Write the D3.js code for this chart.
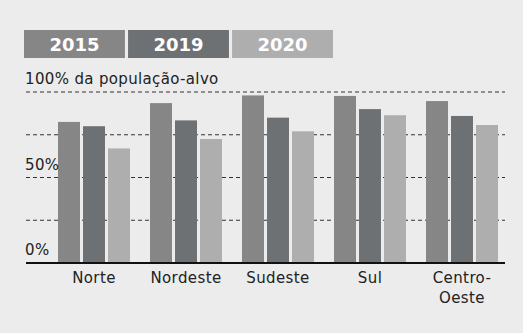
<!DOCTYPE html>
<html>
<head>
<meta charset="utf-8">
<script src="https://cdn.jsdelivr.net/npm/d3@7"></script>
<style>
html,body{margin:0;padding:0;background:#ececec;}
svg{display:block;}
text{font-family:"DejaVu Sans",sans-serif;}
</style>
</head>
<body>
<svg id="chart" width="523" height="333"></svg>
<script>
const regions = ["Norte", "Nordeste", "Sudeste", "Sul", "Centro-Oeste"];
const regionLines = [["Norte"], ["Nordeste"], ["Sudeste"], ["Sul"], ["Centro-", "Oeste"]];
const series = ["2015", "2019", "2020"];
const values2015 = [82.5, 93.5, 98, 97.7, 94.7];
const values2019 = [80, 83.4, 85, 90, 86];
const values2020 = [67, 72.5, 77, 86.4, 80.7];
const yTicks = [0, 25, 50, 75, 100];
const yLabels = {0: "0%", 50: "50%", 100: "100% da população-alvo"};
const colors = ["#868686", "#6e7174", "#aeaeae"];

const allValues = [values2015, values2019, values2020];
const svg = d3.select("#chart");

const x0 = d3.scaleBand().domain(regions).range([48, 508]).paddingInner(20/92).paddingOuter(10/92);
const x1 = d3.scaleBand().domain(series).range([0, x0.bandwidth()]).paddingInner(0.12).paddingOuter(0);
const y = d3.scaleLinear().domain([0, 100]).range([263, 92]);

// Legend
const legend = d3.scaleBand().domain(series).range([24, 333]).paddingInner(0.03);
const lg = svg.append("g");
series.forEach((s, i) => {
  lg.append("rect").attr("x", legend(s)).attr("y", 30).attr("width", legend.bandwidth()).attr("height", 28)
    .attr("fill", colors[i]);
  lg.append("text").attr("x", legend(s) + legend.bandwidth()/2).attr("y", 51)
    .attr("text-anchor", "middle").attr("fill", "#fff").attr("font-weight", "bold")
    .attr("font-size", 18).text(s);
});

// Gridlines
const gridX0 = 26, gridX1 = 505;
svg.append("g").selectAll("line").data(yTicks.filter(d => d > 0)).join("line")
  .attr("x1", gridX0).attr("x2", gridX1)
  .attr("y1", d => y(d)).attr("y2", d => y(d))
  .attr("stroke", "#333").attr("stroke-width", 1).attr("stroke-dasharray", "4,3");

// Bars
const groups = svg.append("g").selectAll("g").data(regions).join("g")
  .attr("transform", d => `translate(${x0(d)},0)`);
groups.selectAll("rect").data((r, ri) => series.map((s, si) => ({s, si, v: allValues[si][ri]}))).join("rect")
  .attr("x", d => x1(d.s)).attr("width", x1.bandwidth())
  .attr("y", d => y(d.v)).attr("height", d => y(0) - y(d.v))
  .attr("fill", d => colors[d.si]);

// Baseline
svg.append("line").attr("x1", gridX0).attr("x2", gridX1).attr("y1", y(0)).attr("y2", y(0))
  .attr("stroke", "#111").attr("stroke-width", 2);

// Y labels
svg.append("g").selectAll("text").data(yTicks.filter(d => yLabels[d])).join("text")
  .attr("x", 25).attr("y", d => y(d) - 8)
  .attr("font-size", 15).attr("letter-spacing", 0.35).attr("fill", "#222").text(d => yLabels[d]);

// X labels
const xl = svg.append("g");
regions.forEach((r, i) => {
  const t = xl.append("text").attr("text-anchor", "middle").attr("font-size", 15)
    .attr("letter-spacing", 0.4).attr("fill", "#222");
  regionLines[i].forEach((line, j) => {
    t.append("tspan").attr("x", x0(r) + x0.bandwidth()/2).attr("y", 283 + j*20).text(line);
  });
});
</script>
</body>
</html>
